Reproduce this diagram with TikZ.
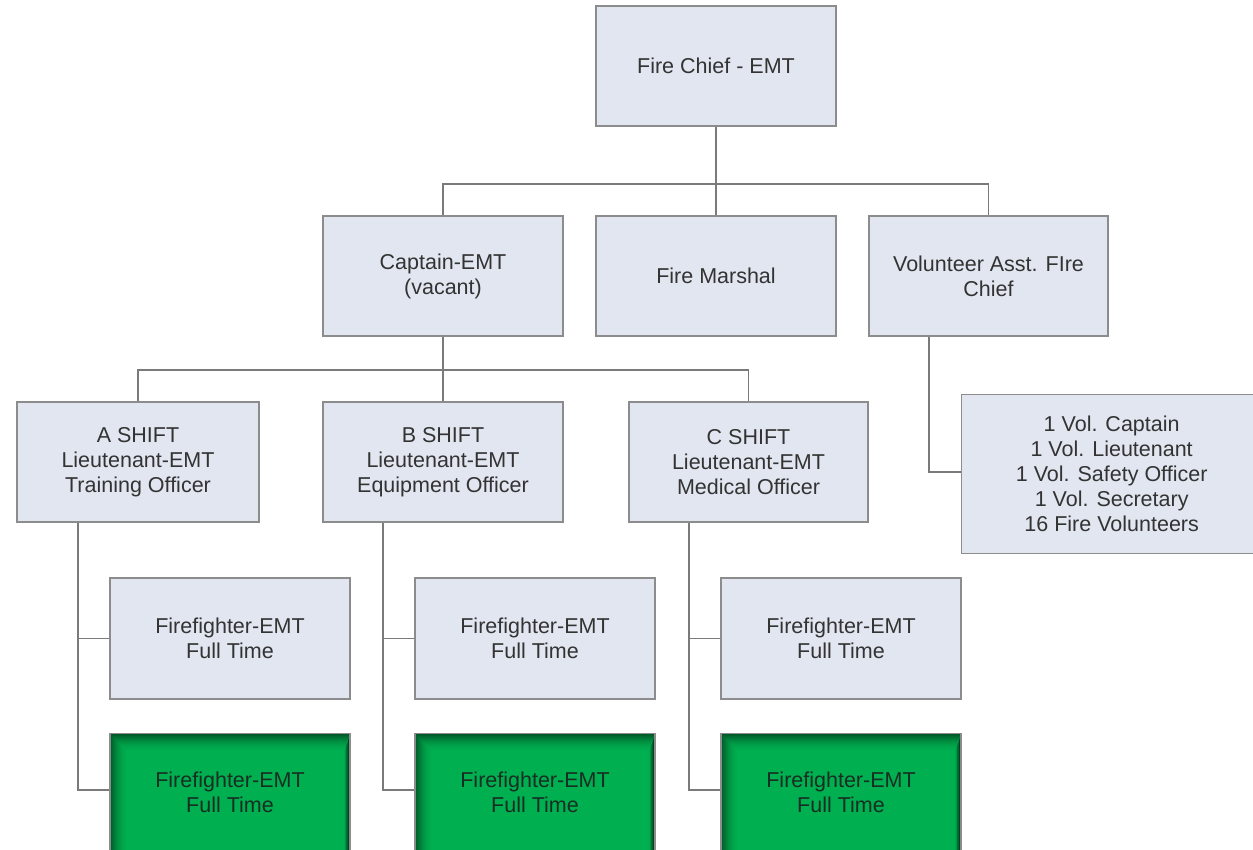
\documentclass[tikz,border=0pt]{standalone}
\usepackage{fontspec}
\setmainfont{Liberation Sans}
\definecolor{boxfill}{HTML}{E1E6F0}
\definecolor{boxline}{HTML}{8C8C8C}
\definecolor{conn}{HTML}{7A7A7A}
\definecolor{txt}{HTML}{333333}
\definecolor{ffgreen}{HTML}{00B050}
\begin{document}
\begin{tikzpicture}[x=1pt,y=-1pt,
  box/.style={draw=boxline, line width=1.3pt, fill=boxfill, text=txt, align=center,
    inner sep=0pt, minimum width=240pt, minimum height=120pt,
    font=\fontsize{21.5}{25}\selectfont},
  gbox/.style={box, fill=none, draw=boxline},
  link/.style={draw=conn, line width=1.3pt}]
\useasboundingbox (0,0) rectangle (1253,849);
\coordinate (j1) at (716,184);
\coordinate (j2) at (443,370);
\coordinate (vj) at (929,472);
\node[box] (chief) at (716,66) {Fire Chief - EMT};
\node[box] (capt) at (443,276) {Captain-EMT\\(vacant)};
\node[box] (marsh) at (716,276) {Fire Marshal};
\node[box, minimum width=239pt] (vol) at (988.5,276) {Volunteer Asst. FIre\\Chief};
\node[box, minimum width=242pt] (a) at (138,462) {A SHIFT\\Lieutenant-EMT\\Training Officer};
\node[box] (b) at (443,462) {B SHIFT\\Lieutenant-EMT\\Equipment Officer};
\node[box, minimum width=239pt] (c) at (748.5,462) {C SHIFT\\Lieutenant-EMT\\Medical Officer};
\node[box, minimum width=300pt, minimum height=159pt, anchor=north west] (vlist) at (961,394)
  {1 Vol. Captain\\1 Vol. Lieutenant\\1 Vol. Safety Officer\\1 Vol. Secretary\\16 Fire Volunteers};
\node[box, minimum height=121pt] (fa) at (230,638.5) {Firefighter-EMT\\Full Time};
\node[box, minimum height=121pt] (fb) at (535,638.5) {Firefighter-EMT\\Full Time};
\node[box, minimum height=121pt] (fc) at (841,638.5) {Firefighter-EMT\\Full Time};
% green boxes with inner shadow
\foreach \n/\cx in {ga/230, gb/535, gc/841}{
  \begin{scope}
    \clip (\cx-120,733) rectangle (\cx+120,870);
    \fill[ffgreen] (\cx-120,733) rectangle (\cx+120,870);
    \foreach \i in {0,...,19}{
      \pgfmathsetmacro{\op}{0.55*(1-\i/20)^2}
      \draw[black, opacity=\op, line width=1.1pt]
        (\cx-120.5+\i,733.5+\i) rectangle (\cx+120.5-0.35*\i,880);
    }
  \end{scope}
  \node[gbox, minimum height=137pt, anchor=north] (\n) at (\cx,733) {};
  \node[text=txt!80!ffgreen!60!black, align=center, font=\fontsize{21.5}{25}\selectfont] (\n t) at (\cx,792) {Firefighter-EMT\\Full Time};
}
% lines
\draw[link] (chief.south) -- (j1);
\draw[link] (capt.north) |- (j1) -| (vol.north);
\draw[link] (j1) -- (marsh.north);
\draw[link] (capt.south) -- (j2);
\draw[link] (a.north) |- (j2) -| (c.north);
\draw[link] (j2) -- (b.north);
\draw[link] (vol.south -| vj) -- (vj) -- (vlist.west |- vj);
\draw[link] (a.south -| 78,0) |- (fa.west);
\draw[link] (fa.west -| 78,0) |- (ga.west |- 0,790);
\draw[link] (b.south -| 383,0) |- (fb.west);
\draw[link] (fb.west -| 383,0) |- (gb.west |- 0,790);
\draw[link] (c.south -| 689,0) |- (fc.west);
\draw[link] (fc.west -| 689,0) |- (gc.west |- 0,790);
\end{tikzpicture}
\end{document}
